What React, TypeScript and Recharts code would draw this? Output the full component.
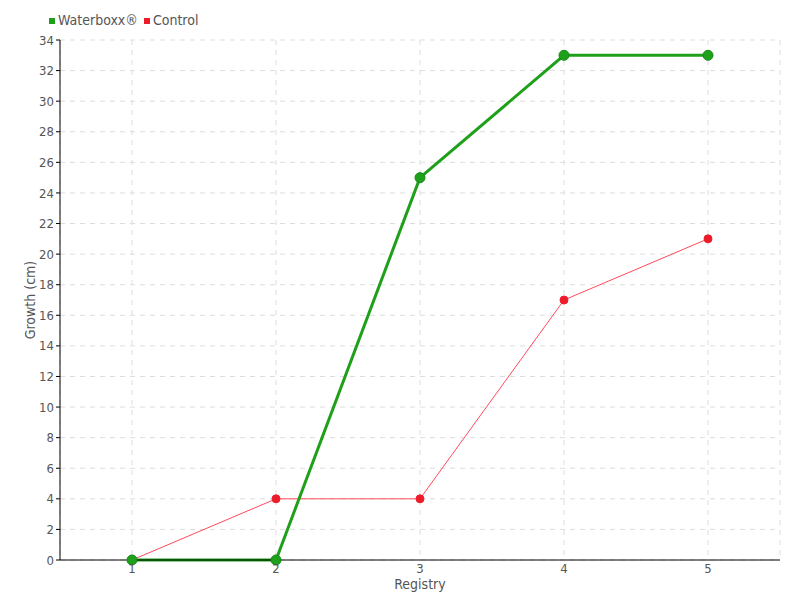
import React from 'react';
import { LineChart, Line, XAxis, YAxis, CartesianGrid, Label } from 'recharts';

// registry points along the x axis
const registries = ['1', '2', '3', '4', '5'];
// growth in cm for each series
const waterboxx = [0, 0, 25, 33, 33];
const control = [0, 4, 4, 17, 21];
const yTicks = [0, 2, 4, 6, 8, 10, 12, 14, 16, 18, 20, 22, 24, 26, 28, 30, 32, 34];

const data = registries.map((r, i) => ({ registry: r, waterboxx: waterboxx[i], control: control[i] }));

const FONT = '"DejaVu Sans Condensed", "DejaVu Sans", sans-serif';
const GREEN = '#1fa01a';
const RED = '#ee1c2a';
const textStyle = { fill: '#555', fontSize: 13, fontFamily: FONT, fontStretch: 'condensed' } as const;

if (typeof document !== 'undefined') document.body.style.margin = '0';

const Swatch = ({ color }: { color: string }) => (
  <span style={{ display: 'inline-block', width: 6, height: 6, background: color, marginRight: 3, verticalAlign: 'middle' }} />
);

export default function App() {
  return (
    <div style={{ position: 'relative', width: 800, height: 600 }}>
      {/* legend sits above the plot, top left */}
      <div style={{ position: 'absolute', top: 12, left: 49, display: 'flex', gap: 6, fontFamily: FONT, fontStretch: 'condensed', fontSize: 14, color: '#555', zIndex: 1 }}>
        <span><Swatch color={GREEN} />Waterboxx®</span>
        <span><Swatch color={RED} />Control</span>
      </div>
      <LineChart width={800} height={600} data={data} margin={{ top: 40, right: 20, bottom: 20, left: 0 }}>
        <CartesianGrid stroke="#ddd" strokeDasharray="5 5" />
        <XAxis dataKey="registry" stroke="#000" tickLine={false} height={20} padding={{ left: 72, right: 72 }}
          tick={{ ...textStyle, dy: -4 }}>
          <Label value="Registry" position="insideBottom" offset={-9} style={{ ...textStyle, fontSize: 14 }} />
        </XAxis>
        <YAxis type="number" domain={[0, 34]} ticks={yTicks} width={60} stroke="#000" tickSize={4}
          interval={0} tick={textStyle}>
          <Label value="Growth (cm)" angle={-90} position="insideLeft" offset={30} style={{ ...textStyle, fontSize: 14, textAnchor: 'middle' }} />
        </YAxis>
        <Line dataKey="control" stroke="#ff4a5a" strokeWidth={1} isAnimationActive={false}
          dot={{ r: 4, fill: RED, stroke: RED, strokeWidth: 1 }} />
        <Line dataKey="waterboxx" stroke={GREEN} strokeWidth={3} isAnimationActive={false}
          dot={{ r: 5, fill: GREEN, stroke: '#168a14', strokeWidth: 1 }} />
      </LineChart>
    </div>
  );
}
